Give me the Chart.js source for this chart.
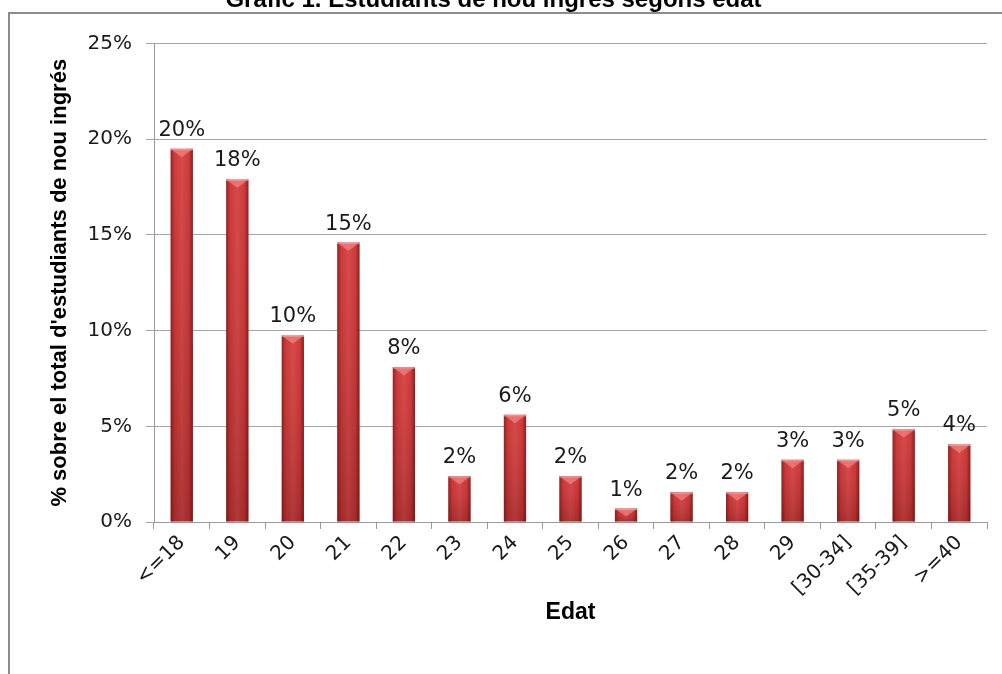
<!DOCTYPE html>
<html>
<head>
<meta charset="utf-8">
<script src="https://cdn.jsdelivr.net/npm/chart.js@4"></script>
<style>
  body { margin: 0; background: #fff; }
  #wrap { position: relative; width: 1002px; height: 674px; }
  #frame { position: absolute; left: 8px; top: 12px; right: 0; bottom: 0;
           border-top: 2px solid #8c8c8c; border-left: 2px solid #8c8c8c; pointer-events: none; }
</style>
</head>
<body>
<div id="wrap">
  <canvas id="grafic" width="1002" height="674"></canvas>
  <div id="frame"></div>
</div>
<script>
// dades llegides del gràfic
const edats = ["<=18", "19", "20", "21", "22", "23", "24", "25", "26", "27", "28", "29", "[30-34]", "[35-39]", ">=40"];
const percentatges = [19.5, 17.9, 9.75, 14.6, 8.1, 2.4, 5.6, 2.4, 0.7, 1.55, 1.55, 3.25, 3.25, 4.85, 4.05];
const etiquetes = ["20%", "18%", "10%", "15%", "8%", "2%", "6%", "2%", "1%", "2%", "2%", "3%", "3%", "5%", "4%"];
const ticksY = [0, 5, 10, 15, 20, 25];

const tickFont = { family: "DejaVu Sans", size: 20 };

// ombrejat 3D de les barres + etiquetes de valor
const barres3d = {
  id: "barres3d",
  afterDatasetsDraw(chart) {
    const ctx = chart.ctx;
    const meta = chart.getDatasetMeta(0);
    meta.data.forEach((bar, i) => {
      const p = bar.getProps(["x", "y", "base", "width"], true);
      const l = p.x - p.width / 2, r = p.x + p.width / 2;
      ctx.save();
      // fosc cap avall
      let g = ctx.createLinearGradient(0, p.y, 0, p.base);
      g.addColorStop(0, "rgba(255,90,90,0.12)");
      g.addColorStop(1, "rgba(60,0,0,0.25)");
      ctx.fillStyle = g;
      ctx.fillRect(l, p.y, p.width, p.base - p.y);
      // vores fosques
      g = ctx.createLinearGradient(l, 0, r, 0);
      g.addColorStop(0, "rgba(70,0,0,0.45)");
      g.addColorStop(0.18, "rgba(70,0,0,0.05)");
      g.addColorStop(0.5, "rgba(255,255,255,0.06)");
      g.addColorStop(0.82, "rgba(70,0,0,0.05)");
      g.addColorStop(1, "rgba(70,0,0,0.5)");
      ctx.fillStyle = g;
      ctx.fillRect(l, p.y, p.width, p.base - p.y);
      // triangle de llum a dalt
      const h = Math.min(p.width * 0.38, (p.base - p.y) * 0.6);
      ctx.beginPath();
      ctx.moveTo(l + 1, p.y + 1);
      ctx.lineTo(r - 1, p.y + 1);
      ctx.lineTo(p.x, p.y + h);
      ctx.closePath();
      ctx.fillStyle = "rgba(255,150,150,0.55)";
      ctx.fill();
      ctx.fillStyle = "rgba(255,170,170,0.7)";
      ctx.fillRect(l, p.y, p.width, 1.5);
      // etiqueta
      ctx.font = "21px 'DejaVu Sans'";
      ctx.fillStyle = "#1a1a1a";
      ctx.textAlign = "center";
      ctx.textBaseline = "alphabetic";
      ctx.fillText(etiquetes[i], p.x, p.y - 13);
      ctx.restore();
    });
  }
};

new Chart(document.getElementById("grafic"), {
  type: "bar",
  data: {
    labels: edats,
    datasets: [{
      data: percentatges,
      backgroundColor: "#cf3b3b",
      borderWidth: 0,
      barPercentage: 0.4,
      categoryPercentage: 1.0
    }]
  },
  options: {
    responsive: false,
    animation: false,
    layout: { padding: { left: 0, right: 15, top: 0, bottom: 0 } },
    plugins: {
      legend: { display: false },
      tooltip: { enabled: false },
      title: {
        display: true,
        text: "Gràfic 1. Estudiants de nou ingrés segons edat",
        color: "#000",
        font: { family: "Liberation Sans", size: 24, weight: "bold" },
        padding: { top: -14.4, bottom: 29.1 }
      }
    },
    scales: {
      x: {
        grid: { drawOnChartArea: false, drawTicks: true, tickLength: 7, color: "#999", offset: true },
        border: { color: "#999" },
        ticks: { font: tickFont, color: "#1a1a1a", minRotation: 45, maxRotation: 45, padding: 2 },
        title: {
          display: true, text: "Edat", color: "#000",
          font: { family: "Liberation Sans", size: 23, weight: "bold" },
          padding: { top: 0, bottom: 48 }
        },
        afterFit(scale) { scale.height = 152; }
      },
      y: {
        min: 0, max: 25,
        afterBuildTicks(scale) { scale.ticks = ticksY.map(v => ({ value: v })); },
        grid: { color: "#a6a6a6", tickLength: 8 },
        border: { color: "#999" },
        ticks: { font: tickFont, color: "#1a1a1a", padding: 14, callback: v => v + "%" },
        title: {
          display: true, text: "% sobre el total d'estudiants de nou ingrés", color: "#000",
          font: { family: "Liberation Sans", size: 22, weight: "bold" },
          padding: { top: 47, bottom: 0 }
        },
        afterFit(scale) { scale.width = 154; }
      }
    }
  },
  plugins: [barres3d]
});
</script>
</body>
</html>
